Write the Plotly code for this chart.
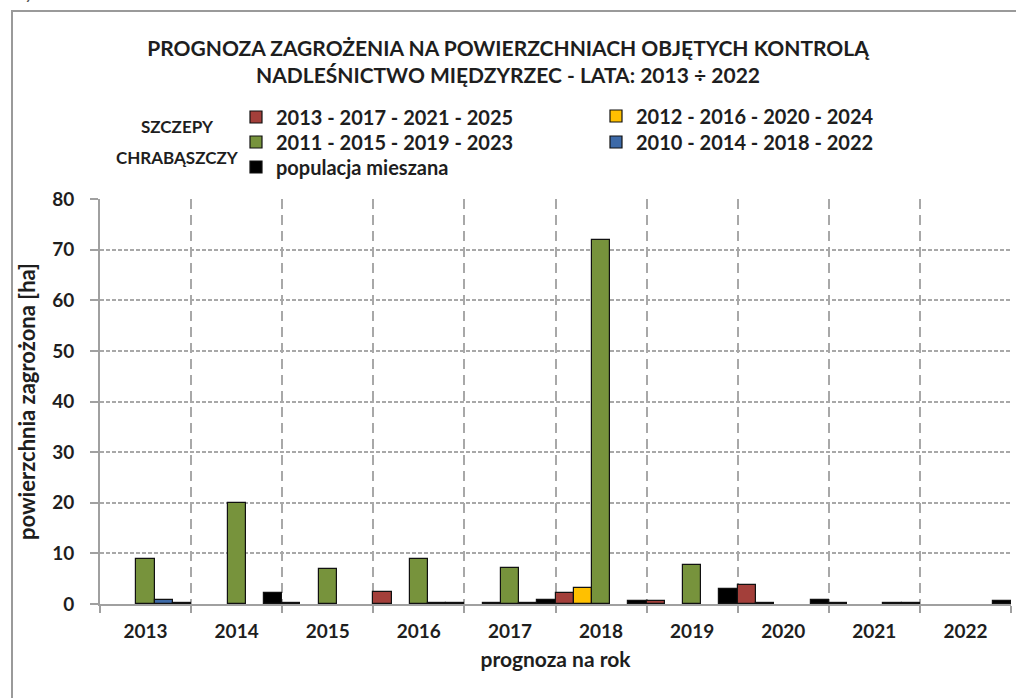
import plotly.graph_objects as go

years = ["2013", "2014", "2015", "2016", "2017", "2018", "2019", "2020", "2021", "2022"]

red_2013_2017 = [None, None, 0.2, 2.3, None, 2.2, 0.5, 3.7, 0.1, None]
yellow_2012_2016 = [None, None, None, None, 0.1, 3.1, None, 0.1, None, None]
green_2011_2015 = [8.8, 20.0, 6.9, 8.8, 7.2, 72.0, 7.7, None, None, None]
blue_2010_2014 = [0.7, None, None, 0.1, 0.2, None, None, None, 0.1, None]
black_mixed = [0.1, 2.1, None, 0.1, 0.7, 0.5, 2.9, 0.8, 0.1, 0.5]

series_names = [
    "2013 - 2017 - 2021 - 2025",
    "2012 - 2016 - 2020 - 2024",
    "2011 - 2015 - 2019 - 2023",
    "2010 - 2014 - 2018 - 2022",
    "populacja mieszana",
]
series_values = [red_2013_2017, yellow_2012_2016, green_2011_2015, blue_2010_2014, black_mixed]
series_colors = ["#A33F3A", "#FFC000", "#77933C", "#3D6AA8", "#000000"]
legend_ids = ["legend", "legend2", "legend3", "legend4", "legend5"]
# legend anchor positions (px, left edge / vertical centre)
legend_pos = [(236, 117), (596, 116), (236, 142), (596, 142), (236, 167)]

FONT = "Lato"
TXT = "#1e1e1e"

W, H = 1016, 698
L, R, T, B = 100, 5, 199, 94
PW, PH = W - L - R, H - T - B


def px_x(px):
    return (px - L) / PW


def px_y(py):
    return (H - B - py) / PH


fig = go.Figure()
for name, vals, col, lg in zip(series_names, series_values, series_colors, legend_ids):
    fig.add_trace(go.Bar(
        x=years, y=vals, name=name, legend=lg,
        marker=dict(color=col, line=dict(color="#111111", width=1.2)),
    ))

legend_layouts = {}
for lg, (lx, ly) in zip(legend_ids, legend_pos):
    legend_layouts[lg] = dict(
        x=px_x(lx), y=px_y(ly), xanchor="left", yanchor="middle",
        bgcolor="rgba(0,0,0,0)",
        font=dict(family=FONT, size=20, color=TXT, weight="bold"),
    )

fig.update_layout(
    width=W, height=H,
    margin=dict(l=L, r=R, t=T, b=B),
    paper_bgcolor="white", plot_bgcolor="white",
    barmode="group", bargap=0, bargroupgap=0,
    font=dict(family=FONT, size=19, color=TXT),
    title=dict(
        text="<b>PROGNOZA ZAGROŻENIA NA POWIERZCHNIACH OBJĘTYCH KONTROLĄ</b><br><b>NADLEŚNICTWO MIĘDZYRZEC - LATA: 2013 ÷ 2022</b>",
        x=0.5, xref="container", xanchor="center",
        y=1 - 56 / H, yref="container", yanchor="middle",
        font=dict(family=FONT, size=21, color=TXT),
    ),
    xaxis=dict(
        type="category", tickson="boundaries",
        ticks="outside", ticklen=7, tickcolor="#a0a0a0", tickwidth=2,
        showgrid=True, gridcolor="#a8a8a8", gridwidth=2, griddash="10px,6px",
        showline=True, linecolor="#a0a0a0", linewidth=2,
        ticklabelstandoff=9,
        tickfont=dict(family=FONT, size=19, color=TXT, weight="bold"),
        title=dict(text="<b>prognoza na rok</b>", font=dict(family=FONT, size=21, color=TXT), standoff=12),
    ),
    yaxis=dict(
        range=[0, 80], dtick=10, tick0=0,
        ticks="outside", ticklen=8, tickcolor="#a0a0a0", tickwidth=2,
        showgrid=True, gridcolor="#a8a8a8", gridwidth=1.5, griddash="4px,2px",
        showline=True, linecolor="#a0a0a0", linewidth=2, zeroline=False,
        ticklabelstandoff=12,
        tickfont=dict(family=FONT, size=19, color=TXT, weight="bold"),
        title=dict(text="<b>powierzchnia zagrożona [ha]</b>", font=dict(family=FONT, size=22, color=TXT), standoff=10),
    ),
    showlegend=True,
    **legend_layouts,
)

# outer frame
fig.add_shape(type="rect", xref="paper", yref="paper",
              x0=px_x(12), x1=px_x(1030), y0=px_y(720), y1=px_y(11),
              line=dict(color="#9a9a9a", width=2), fillcolor="rgba(0,0,0,0)", layer="below")

# legend label
fig.add_annotation(text="<b>SZCZEPY</b>", xref="paper", yref="paper",
                   x=px_x(177), y=px_y(127), xanchor="center", yanchor="middle",
                   showarrow=False, font=dict(family=FONT, size=17, color=TXT))
fig.add_annotation(text="<b>CHRABĄSZCZY</b>", xref="paper", yref="paper",
                   x=px_x(177), y=px_y(157), xanchor="center", yanchor="middle",
                   showarrow=False, font=dict(family=FONT, size=17, color=TXT))

# cropped caption at the top left
fig.add_annotation(text="<i>Ryc. 1.</i>", xref="paper", yref="paper",
                   x=px_x(12), y=px_y(5), xanchor="left", yanchor="bottom",
                   showarrow=False, font=dict(family=FONT, size=20, color="#555555"))

fig.write_html("out.html", config={"displayModeBar": False},
               post_script="document.body.style.margin='0';")
